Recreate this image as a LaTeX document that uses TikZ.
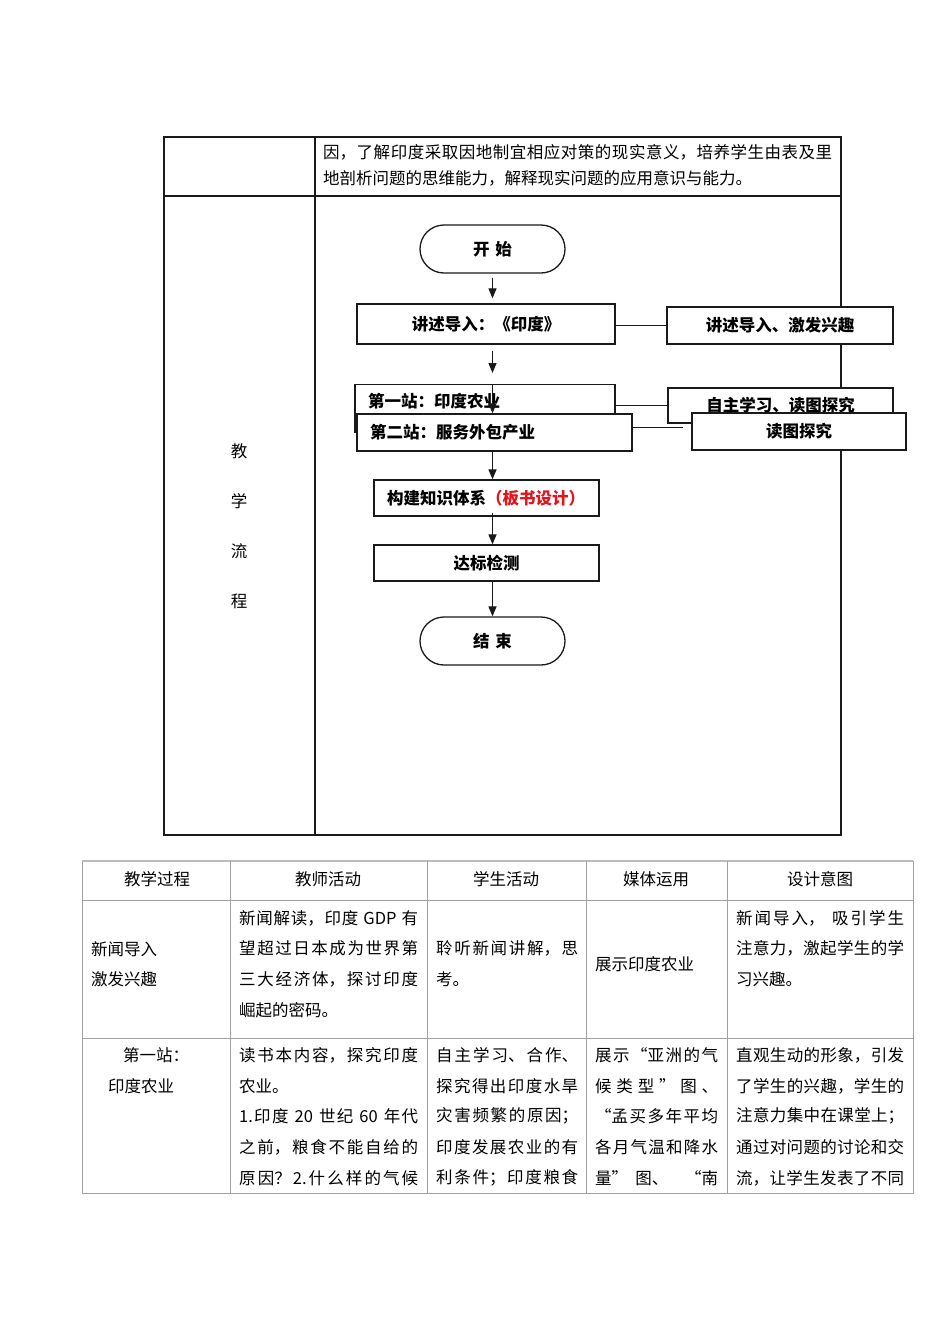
\documentclass[tikz,border=0pt]{standalone}
\usepackage{fontspec}
\setmainfont{Noto Sans CJK SC}
\XeTeXlinebreaklocale "zh"
\XeTeXlinebreakskip=0pt plus 1pt
\hbadness=10000
\usetikzlibrary{arrows.meta,calc}
\definecolor{inkline}{HTML}{1A1A1A}
\definecolor{rulegray}{HTML}{A0A0A0}
\definecolor{boardred}{HTML}{E3141B}

% one line of a justified cell
\newcommand{\jline}[2]{\parbox{#1}{\tolerance=10000\parfillskip=0pt\relax #2}}

\tikzset{
  celltext/.style={anchor=west, inner sep=0pt, font=\fontsize{16.5}{20}\selectfont},
  headtext/.style={celltext, anchor=center},
  flowbox/.style={draw=inkline, line width=1.3pt, fill=white, inner sep=0pt,
    font=\fontsize{16.5}{20}\selectfont\bfseries},
  leftbox/.style={flowbox, inner xsep=13pt, align=left},
  termbox/.style={flowbox, rounded corners=24pt, minimum width=145pt, minimum height=48pt}
}

\begin{document}
\begin{tikzpicture}[x=1pt, y=-1pt, >={Triangle[length=10pt,width=8pt]}]
    \useasboundingbox[fill=white] (0,0) rectangle (950,1344);

    % upper table
    \draw[inkline, line width=1.4pt] (164,137) rectangle (841,835);
    \draw[inkline, line width=1.4pt] (315,137) -- (315,835);
    \draw[inkline, line width=1.4pt] (164,196) -- (841,196);

    \node[celltext] (aim1) at (323,152) {\jline{509pt}{因，了解印度采取因地制宜相应对策的现实意义，培养学生由表及里}};
    \node[celltext] (aim2) at (323,178) {地剖析问题的思维能力，解释现实问题的应用意识与能力。};

    \foreach \ch [count=\i] in {教,学,流,程}
        \node[headtext] (flowlabel\i) at (239,401+50*\i) {\ch};

    % flow chart
    \node[termbox] (start) at (492.5,249) {开\hspace{6pt}始};
    \node[flowbox, minimum width=258pt, minimum height=40pt] (intro) at (486,324) {讲述导入：《印度》};
    \node[flowbox, minimum width=226pt, minimum height=37pt] (motive) at (780,325.5) {讲述导入、激发兴趣};

    \node[leftbox, anchor=north, minimum width=260pt, text width=234pt, inner ysep=4pt,
          text height=19pt, text depth=21pt] (st1) at (485,384) {第一站：印度农业};
    \node[flowbox, minimum width=225pt, minimum height=35pt] (selfstudy) at (780.5,405.5) {自主学习、读图探究};
    \node[leftbox, minimum width=275pt, minimum height=37pt, text width=249pt] (st2) at (494.5,432.5) {第二站：服务外包产业};
    \node[flowbox, minimum width=214pt, minimum height=37pt] (mapread) at (799,431.5) {读图探究};

    \node[leftbox, minimum width=225pt, minimum height=36pt, text width=199pt] (build) at (486.5,498)
        {构建知识体系\textcolor{boardred}{（板书设计）}};
    \node[flowbox, minimum width=225pt, minimum height=36pt] (check) at (486.5,563) {达标检测};
    \node[termbox] (finish) at (492.5,641) {结\hspace{6pt}束};

    \coordinate (linkend) at (683,427);

    \draw[inkline, line width=1.2pt, ->] ([yshift=-4pt]start.south) -- ([yshift=5pt]start.south |- intro.north);
    \draw[inkline, line width=1.2pt, ->] ([yshift=-6pt]start.south |- intro.south) -- ([yshift=11pt]start.south |- st1.north);
    \draw[inkline, line width=1.2pt, ->] (start.south |- st1.north) -- (start.south |- st2.north);
    \draw[inkline, line width=1.2pt, ->] (start.south |- st2.south) -- (start.south |- build.north);
    \draw[inkline, line width=1.2pt, ->] ([yshift=4pt]start.south |- build.south) -- (start.south |- check.north);
    \draw[inkline, line width=1.2pt, ->] (start.south |- check.south) -- (finish.north);

    \draw[inkline, line width=1pt] (intro.east |- motive.west) -- (motive.west);
    \draw[inkline, line width=1pt] (st1.east |- selfstudy.west) -- (selfstudy.west);
    \draw[inkline, line width=1pt] (st2.east |- linkend) -- (linkend);

    % lower table
    \draw[rulegray, line width=1pt] (82,861) rectangle (913,1193);
    \draw[rulegray!70, line width=2.2pt] (82,861) -- (913,861);
    \foreach \cx in {230,427,586,727}
        \draw[rulegray, line width=1pt] (\cx,861) -- (\cx,1193);
    \foreach \ry in {900,1038}
        \draw[rulegray, line width=1pt] (82,\ry) -- (913,\ry);

    \node[headtext] (h1) at (157,879) {教学过程};
    \node[headtext] (h2) at (328,879) {教师活动};
    \node[headtext] (h3) at (506,879) {学生活动};
    \node[headtext] (h4) at (656,879) {媒体运用};
    \node[headtext] (h5) at (820,879) {设计意图};

    % row: news
    \node[celltext] (a1) at (91,949) {新闻导入};
    \node[celltext] (a2) at (91,979) {激发兴趣};
    \node[celltext] (b1) at (239,918) {\jline{179pt}{新闻解读，印度 GDP 有}};
    \node[celltext] (b2) at (239,948) {\jline{179pt}{望超过日本成为世界第}};
    \node[celltext] (b3) at (239,979) {\jline{179pt}{三大经济体，探讨印度}};
    \node[celltext] (b4) at (239,1010) {崛起的密码。};
    \node[celltext] (c1) at (436,948) {\jline{142pt}{聆听新闻讲解，思}};
    \node[celltext] (c2) at (436,979) {考。};
    \node[celltext] (d1) at (595,964) {展示印度农业};
    \node[celltext] (e1) at (736,918) {\jline{168pt}{新闻导入， 吸引学生}};
    \node[celltext] (e2) at (736,948) {\jline{168pt}{注意力，激起学生的学}};
    \node[celltext] (e3) at (736,979) {习兴趣。};

    % row: first station
    \node[celltext] (f1) at (123,1055) {第一站：};
    \node[celltext] (f2) at (108,1086) {印度农业};
    \node[celltext] (g1) at (239,1055) {\jline{179pt}{读书本内容，探究印度}};
    \node[celltext] (g2) at (239,1086) {农业。};
    \node[celltext] (g3) at (239,1116) {\jline{179pt}{1.印度 20 世纪 60 年代}};
    \node[celltext] (g4) at (239,1147) {\jline{179pt}{之前，粮食不能自给的}};
    \node[celltext] (g5) at (239,1178) {\jline{179pt}{原因？2.什么样的气候}};
    \node[celltext] (k1) at (436,1055) {\jline{142pt}{自主学习、合作、}};
    \node[celltext] (k2) at (436,1086) {\jline{142pt}{探究得出印度水旱}};
    \node[celltext] (k3) at (436,1116) {\jline{142pt}{灾害频繁的原因；}};
    \node[celltext] (k4) at (436,1147) {\jline{142pt}{印度发展农业的有}};
    \node[celltext] (k5) at (436,1178) {\jline{142pt}{利条件；印度粮食}};
    \node[celltext] (m1) at (595,1055) {\jline{123pt}{展示“亚洲的气}};
    \node[celltext] (m2) at (595,1086) {\jline{123pt}{候 类 型 ” 图 、}};
    \node[celltext] (m3) at (595,1116) {\jline{123pt}{“孟买多年平均}};
    \node[celltext] (m4) at (595,1147) {\jline{123pt}{各月气温和降水}};
    \node[celltext] (m5) at (595,1178) {\jline{123pt}{量”图、 “南}};
    \node[celltext] (n1) at (736,1055) {\jline{168pt}{直观生动的形象，引发}};
    \node[celltext] (n2) at (736,1086) {\jline{168pt}{了学生的兴趣，学生的}};
    \node[celltext] (n3) at (736,1116) {\jline{168pt}{注意力集中在课堂上；}};
    \node[celltext] (n4) at (736,1147) {\jline{168pt}{通过对问题的讨论和交}};
    \node[celltext] (n5) at (736,1178) {\jline{168pt}{流，让学生发表了不同}};
\end{tikzpicture}
\end{document}
